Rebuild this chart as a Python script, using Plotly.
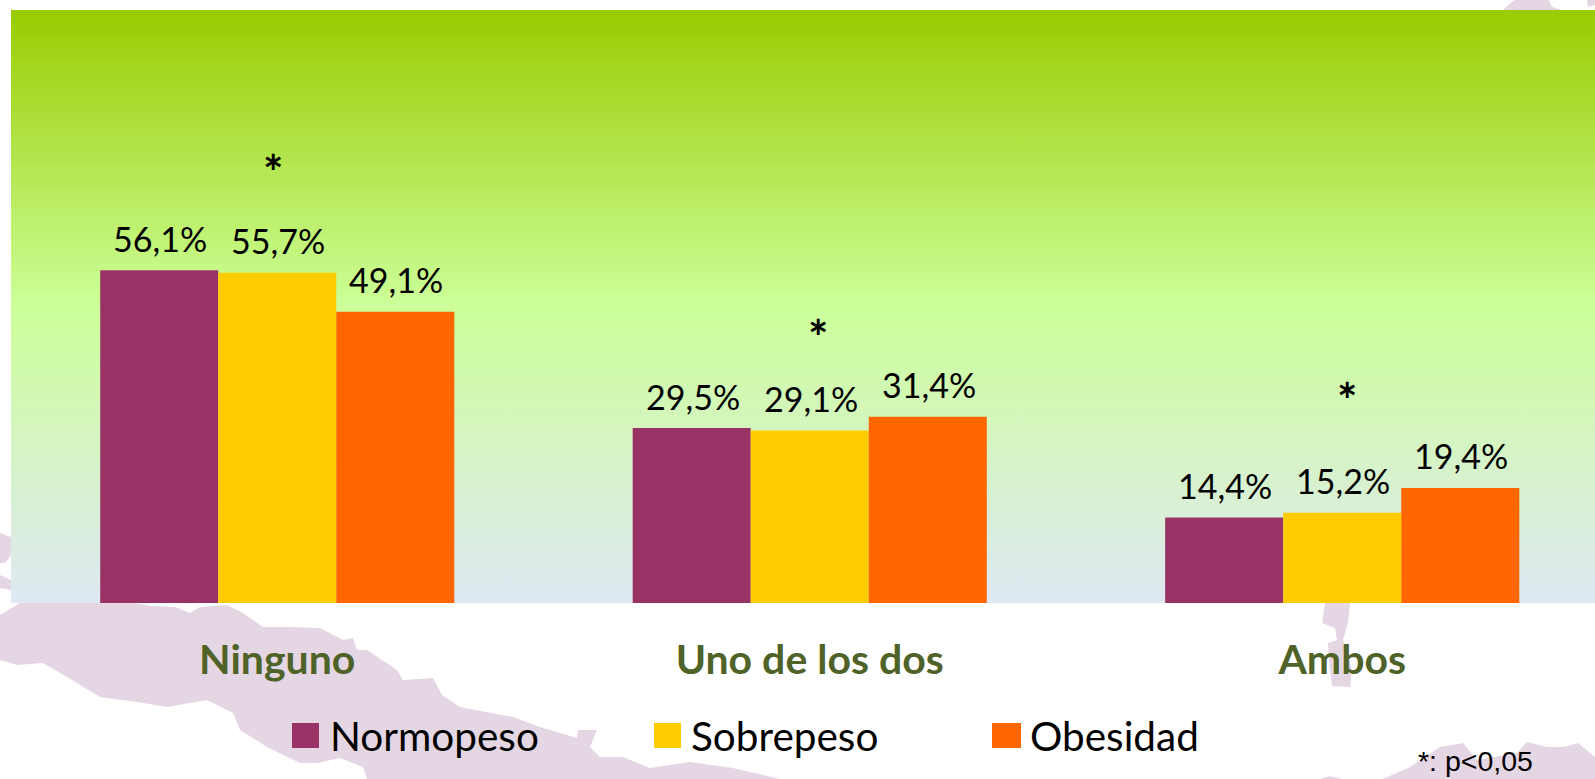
import plotly.graph_objects as go

categories = ["Ninguno", "Uno de los dos", "Ambos"]
series_names = ["Normopeso", "Sobrepeso", "Obesidad"]
normopeso = [56.1, 29.5, 14.4]
sobrepeso = [55.7, 29.1, 15.2]
obesidad = [49.1, 31.4, 19.4]
series_values = [normopeso, sobrepeso, obesidad]
series_colors = ["#993366", "#FFCC00", "#FF6600"]
value_labels = [["56,1%", "29,5%", "14,4%"], ["55,7%", "29,1%", "15,2%"], ["49,1%", "31,4%", "19,4%"]]
star_x = [-0.008, 0.015, 0.008]
star_y = [72.7, 44.9, 34.3]

W, H = 1595, 779
L, T, R_EDGE, B_EDGE = 11, 10, 1595, 603
PW, PH = R_EDGE - L, B_EDGE - T
GROUP_PX = 532.5
XMAX = -0.5 + PW / GROUP_PX
BAR_W = 0.665 / 3
FONT = "Lato, Carlito, sans-serif"
PINK = "#E5D6E3"

def px(x):
    return (x - L) / PW
def py(y):
    return (B_EDGE - y) / PH
def path(points):
    return "M " + " L ".join(f"{px(x):.5f},{py(y):.5f}" for x, y in points) + " Z"

# decorative map silhouette behind the chart (page pixel outlines)
map_outlines = [
    [(0,615),(20,603),(135,603),(150,606),(175,607),(190,613),(200,607),(227,605),(243,613),(263,627),(293,627),
     (320,628),(343,640),(353,638),(357,650),(367,650),(397,670),(403,680),(433,678),(442,695),(460,707),(513,717),
     (540,727),(577,738),(578,730),(597,730),(590,747),(600,757),(623,757),(650,768),(690,762),(733,768),(780,779),
     (367,779),(363,767),(340,758),(317,763),(300,763),(267,747),(240,730),(233,713),(207,700),(167,707),(137,702),
     (100,697),(67,677),(43,663),(17,665),(0,660)],
    [(0,533),(11,537),(11,555),(5,563),(0,563)],
    [(0,575),(11,580),(11,590),(0,588)],
    [(1325,603),(1350,603),(1348,623),(1343,640),(1347,650),(1352,670),(1350,687),(1332,686),(1329,660),(1328,643),
     (1337,640),(1335,628),(1322,623)],
    [(1383,779),(1410,767),(1440,747),(1463,743),(1477,760),(1517,753),(1527,742),(1547,747),(1563,747),(1578,743),
     (1595,757),(1595,779)],
    [(1320,779),(1330,776),(1342,779)],
    [(1503,10),(1513,1),(1516,0),(1549,0),(1552,7),(1562,10)],
    [(1587,0),(1595,0),(1595,5),(1588,7)],
]
shapes = [dict(type="path", xref="paper", yref="paper", path=path(p), fillcolor=PINK,
               line=dict(width=0), layer="below") for p in map_outlines]

fig = go.Figure()
fig.add_trace(go.Scatter(
    x=[-0.5, XMAX, XMAX, -0.5, -0.5], y=[0, 0, 100, 100, 0], mode="none", fill="toself",
    fillgradient=dict(type="vertical",
                      colorscale=[[0, "#DFE8F3"], [0.5, "#CCFF99"], [1, "#99CC00"]]),
    hoverinfo="skip", showlegend=False, xaxis="x", yaxis="y"))

for name, vals, color in zip(series_names, series_values, series_colors):
    fig.add_trace(go.Bar(name=name, x=list(range(len(categories))), y=vals,
                         marker=dict(color=color, line=dict(width=0)),
                         showlegend=False, xaxis="x2", yaxis="y2"))

ann = []
for i, (vals, labels) in enumerate(zip(series_values, value_labels)):
    for j, (v, t) in enumerate(zip(vals, labels)):
        ann.append(dict(x=j + (i - 1) * BAR_W, y=v, xref="x2", yref="y2", text=t, showarrow=False,
                        yshift=32, xshift=1, yanchor="middle", xanchor="center",
                        font=dict(family=FONT, size=34, color="#000000")))
for j, (dx, sy) in enumerate(zip(star_x, star_y)):
    ann.append(dict(x=j + dx, y=sy, xref="x2", yref="y2", text="<b>*</b>", showarrow=False,
                    font=dict(family=FONT, size=48, color="#000000")))

legend_swatches = [(292, 319), (654, 681), (992, 1021)]
legend_text_x = [328, 689, 1028]
for (x0, x1), tx, name, c in zip(legend_swatches, legend_text_x, series_names, series_colors):
    shapes.append(dict(type="rect", xref="paper", yref="paper", x0=px(x0), x1=px(x1), y0=py(748), y1=py(723),
                       fillcolor=c, line=dict(width=0)))
    ann.append(dict(x=px(tx), y=py(735), xref="paper", yref="paper", text=name, showarrow=False,
                    xanchor="left", yanchor="middle", font=dict(family=FONT, size=40.5, color="#000000")))
ann.append(dict(x=px(1416), y=py(761), xref="paper", yref="paper", text="*: p&lt;0,05", showarrow=False,
                xanchor="left", yanchor="middle",
                font=dict(family="Liberation Sans, Arial, sans-serif", size=28.5, color="#000000")))

fig.update_layout(
    width=W, height=H, autosize=False,
    margin=dict(l=L, r=W - R_EDGE, t=T, b=H - B_EDGE, pad=0),
    paper_bgcolor="#FFFFFF", plot_bgcolor="rgba(0,0,0,0)",
    barmode="group", bargap=0.335, bargroupgap=0, showlegend=False,
    xaxis=dict(range=[-0.5, XMAX], tickmode="array", tickvals=list(range(len(categories))), ticktext=categories,
               ticks="outside", ticklen=21, tickcolor="rgba(0,0,0,0)", showgrid=False, zeroline=False, showline=False,
               tickfont=dict(family=FONT, size=41, color="#4F6228", weight="bold")),
    yaxis=dict(range=[0, 100], visible=False, showgrid=False, zeroline=False),
    xaxis2=dict(range=[-0.5, XMAX], overlaying="x", visible=False),
    yaxis2=dict(range=[0, 100], overlaying="y", visible=False),
    shapes=shapes, annotations=ann,
)
fig.write_html("out.html", config=dict(displayModeBar=False), post_script="document.body.style.margin='0';")
